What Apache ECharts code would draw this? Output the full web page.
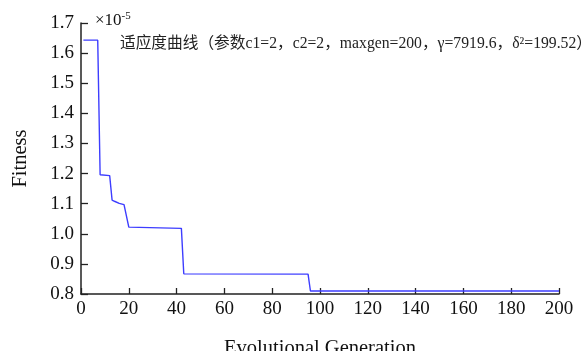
<!DOCTYPE html>
<html><head><meta charset="utf-8">
<script src="https://cdn.jsdelivr.net/npm/echarts@6/dist/echarts.min.js"></script>
<style>html,body{margin:0;padding:0;background:#fff}#c{width:584px;height:351px}</style>
</head><body><div id="c"></div>
<script>
// Evolutional generation at each change point
const generations = [1, 7, 8, 12, 13, 14, 16, 18, 20, 42, 43, 95, 96, 200];
// Fitness values (×1e-5)
const fitness = [1.643, 1.643, 1.196, 1.193, 1.112, 1.108, 1.101, 1.097, 1.022, 1.018, 0.867, 0.866, 0.810, 0.810];
const xTicks = [0, 20, 40, 60, 80, 100, 120, 140, 160, 180, 200];
const yTicks = [0.8, 0.9, 1.0, 1.1, 1.2, 1.3, 1.4, 1.5, 1.6, 1.7];
const titleText = '适应度曲线（参数c1=2，c2=2，maxgen=200，γ=7919.6，δ²=199.52）';

const serif = '"Liberation Serif", "Times New Roman", "Noto Sans CJK SC", serif';
const chart = echarts.init(document.getElementById('c'), null, {renderer: 'canvas'});
chart.setOption({
  animation: false,
  backgroundColor: '#fff',
  grid: {left: 81, right: 25, top: 23, bottom: 57, containLabel: false, outerBoundsMode: 'none'},
  xAxis: {
    type: 'value', min: xTicks[0], max: xTicks[xTicks.length - 1], interval: 20,
    name: 'Evolutional Generation', nameLocation: 'middle', nameGap: 44,
    nameTextStyle: {fontFamily: serif, fontSize: 20.5, color: '#111'},
    axisLine: {lineStyle: {color: '#222', width: 1.5}},
    axisTick: {inside: true, length: 6, lineStyle: {color: '#222', width: 1.3}},
    axisLabel: {fontFamily: serif, fontSize: 19, color: '#111', margin: 6},
    splitLine: {show: false}
  },
  yAxis: {
    type: 'value', min: yTicks[0], max: yTicks[yTicks.length - 1], interval: 0.1,
    name: 'Fitness', nameLocation: 'middle', nameGap: 50, nameRotate: 90,
    nameTextStyle: {fontFamily: serif, fontSize: 20.5, color: '#111'},
    axisLine: {show: true, lineStyle: {color: '#222', width: 1.5}},
    axisTick: {show: true, inside: true, length: 7, lineStyle: {color: '#222', width: 1.3}},
    axisLabel: {fontFamily: serif, fontSize: 19, color: '#111', margin: 7,
      formatter: v => v.toFixed(1)},
    splitLine: {show: false}
  },
  graphic: [
    {type: 'text', left: 95, top: 11, style: {
      text: '×10{s|-5}', fontFamily: serif, fontSize: 17, fill: '#111',
      rich: {s: {fontFamily: serif, fontSize: 11, verticalAlign: 'top', padding: [0,0,9,0]}}
    }},
    {type: 'text', left: 120, top: 36, style: {
      text: titleText, fontFamily: serif, fontSize: 15.7, fill: '#222'
    }}
  ],
  series: [{
    type: 'line', showSymbol: false, symbol: 'none',
    lineStyle: {color: '#3d3dff', width: 1.4},
    data: generations.map((g, i) => [g, fitness[i]])
  }]
});
</script></body></html>
